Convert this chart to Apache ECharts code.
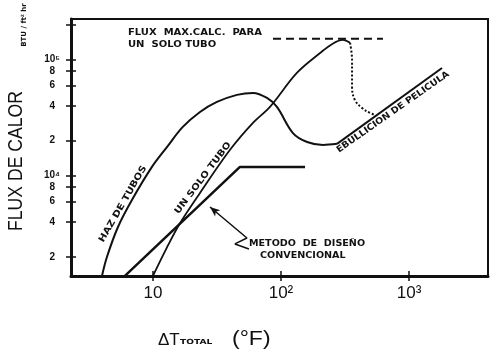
<!DOCTYPE html>
<html><head><meta charset="utf-8">
<script src="https://cdn.jsdelivr.net/npm/echarts@6/dist/echarts.min.js"></script>
<style>html,body{margin:0;padding:0;background:#fff}#c{width:491px;height:349px}</style>
</head><body><div id="c"></div>
<script>
// ---- data (ΔT total °F, flux BTU/ft² hr) ----
const xTicks = [10, 100, 1000];
const yLabelTicks = [2000, 4000, 6000, 8000, 10000, 20000, 40000, 60000, 80000, 100000];
const yTickMarks = [2000, 4000, 6000, 8000, 10000, 20000, 40000, 60000, 80000, 100000, 200000];
const hazDeTubos = [[4.0,1370],[4.37,1990],[5.33,3610],[6.85,6170],[9.82,11900],[12.9,17700],[17.1,26300],[23.3,35400],[31.6,43200],[45.3,49700],[60.4,51700],[77.8,46800],[93,39100],[124,23300],[160,19500],[213,18400],[274,18800]];
const ebullicionPelicula = [[274,18800],[1811,84800]];
const unSoloTubo = [[10,1370],[12.9,2425],[16.3,3910],[23.3,7100],[40,16700],[60.4,28500],[82,39100],[133,76800],[202,114000],[255,138000],[305,148000],[346,140000]];
const unSoloTuboTransicion = [[346,140000],[359,99400],[359,58200],[378,44900],[430,38300],[496,34700],[542,33400]];
const metodoConvencional = [[6.04,1370],[47.8,11900],[154,11900]];
const fluxMaxCalc = [[86.6,151000],[626,151000]];
const flecha = [[27.9,5370],[54.2,2900],[43.7,2580],[56.2,2330]];

const X_MIN = 2.29, X_MAX = 4140, Y_MIN = 1365, Y_MAX = 224000;
const black = '#111';

function isPow10(v){ const e = Math.round(Math.log10(v)); return Math.abs(Math.pow(10,e) - v) < 1e-6 * v; }
const sup = {'2':'²','3':'³','4':'⁴','5':'⁵'};
function xFmt(v){ const e = Math.round(Math.log10(v)); return e === 1 ? '10' : '10' + sup[e]; }
function yFmt(v){
  if (isPow10(v)) return '10' + sup[Math.round(Math.log10(v))];
  const d = Math.round(v / Math.pow(10, Math.floor(Math.log10(v) + 1e-9)));
  return '{d|' + d + '}';
}

function txt(text, x, y, font, extra){
  const el = {type:'text', x:x, y:y, z:100, style:{text:text, fill:black, font:font, textAlign:'left', textVerticalAlign:'middle'}};
  if (extra) Object.assign(el, extra);
  if (extra && extra.align) { el.style.textAlign = extra.align; delete el.align; }
  return el;
}
const deg = Math.PI / 180;

const chart = echarts.init(document.getElementById('c'));
const tickLine = {color:black, width:1.5};
const option = {
  animation:false,
  backgroundColor:'#fff',
  grid:{left:71, right:3, top:19, bottom:73, show:true, borderColor:black, borderWidth:2, outerBoundsMode:'none'},
  xAxis:[
    {type:'log', min:X_MIN, max:X_MAX, position:'bottom',
     axisLine:{show:true, lineStyle:{color:black, width:3}},
     axisTick:{show:true, customValues:xTicks, length:5, lineStyle:tickLine},
     axisLabel:{customValues:xTicks, formatter:xFmt, color:black, fontSize:17, fontFamily:'"Liberation Sans", "DejaVu Sans"', margin:9},
     splitLine:{show:false}, minorTick:{show:false}},
    {type:'log', min:X_MIN, max:X_MAX, position:'bottom',
     axisLine:{show:false}, axisTick:{show:true, inside:true, customValues:xTicks, length:5, lineStyle:tickLine},
     axisLabel:{show:false}, splitLine:{show:false}}
  ],
  yAxis:[
    {type:'log', min:Y_MIN, max:Y_MAX, position:'left',
     axisLine:{show:true, lineStyle:{color:black, width:3}},
     axisTick:{show:true, customValues:yTickMarks, length:5, lineStyle:tickLine},
     axisLabel:{customValues:yLabelTicks, formatter:yFmt, color:black, fontSize:10, fontWeight:'bold',
       fontFamily:'"Liberation Sans", "DejaVu Sans"', margin:11,
       rich:{d:{fontSize:10, fontWeight:'bold', fontFamily:'"Liberation Sans"', color:black, padding:[0,5,0,0]}}},
     splitLine:{show:false}, minorTick:{show:false}},
    {type:'log', min:Y_MIN, max:Y_MAX, position:'left',
     axisLine:{show:false}, axisTick:{show:true, inside:true, customValues:yTickMarks, length:5, lineStyle:tickLine},
     axisLabel:{show:false}, splitLine:{show:false}}
  ],
  series:[
    {name:'Haz de tubos', type:'line', data:hazDeTubos, smooth:0.35, symbol:'none', lineStyle:{color:black, width:2}},
    {name:'Ebullición de película', type:'line', data:ebullicionPelicula, symbol:'none', lineStyle:{color:black, width:2}},
    {name:'Un solo tubo', type:'line', data:unSoloTubo, smooth:0.35, symbol:'none', lineStyle:{color:black, width:1.8}},
    {name:'Transición', type:'line', data:unSoloTuboTransicion, smooth:0.4, symbol:'none', lineStyle:{color:black, width:2, type:[2,2]}},
    {name:'Método convencional', type:'line', data:metodoConvencional, symbol:'none', lineStyle:{color:black, width:2.5}},
    {name:'Flux máx. calc.', type:'line', data:fluxMaxCalc, symbol:'none', lineStyle:{color:black, width:2, type:[8,5]}},
    {name:'Flecha', type:'line', showSymbol:true, symbol:'none', lineStyle:{color:black, width:1.5},
     data:flecha.map((p,i) => i === 0 ? {value:p, symbol:'arrow', symbolSize:[6,10], symbolRotate:50, itemStyle:{color:black}} : {value:p})}
  ],
  graphic:[
    txt('FLUX DE CALOR', 16, 161, '20px "Liberation Sans", "DejaVu Sans"', {rotation:90*deg, scaleX:0.88, align:'center'}),
    txt('BTU / ft² hr', 24, 25, 'bold 7px "DejaVu Sans"', {rotation:90*deg, align:'center'}),
    txt('ΔT', 158, 340, '17px "Liberation Sans", "DejaVu Sans"'),
    txt('TOTAL', 180, 342, 'bold 7px "DejaVu Sans"', {scaleX:1.3}),
    txt('(°F)', 232, 339, '20px "Liberation Sans", "DejaVu Sans"', {scaleX:1.15}),
    txt('FLUX  MAX.CALC.  PARA', 128, 33, 'bold 8px "DejaVu Sans"', {scaleX:1.25}),
    txt('UN  SOLO TUBO', 128, 45, 'bold 8px "DejaVu Sans"', {scaleX:1.25}),
    txt('METODO  DE  DISEÑO', 249, 244, 'bold 8px "DejaVu Sans"', {scaleX:1.2}),
    txt('CONVENCIONAL', 260, 256, 'bold 8px "DejaVu Sans"', {scaleX:1.2}),
    txt('HAZ DE TUBOS', 123, 204, 'bold 9px "DejaVu Sans"', {rotation:60*deg, scaleX:1.15, align:'center'}),
    txt('UN SOLO TUBO', 203, 178, 'bold 9px "DejaVu Sans"', {rotation:53*deg, scaleX:1.15, align:'center'}),
    txt('EBULLICION DE PELICULA', 393, 112, 'bold 9px "DejaVu Sans"', {rotation:35*deg, scaleX:1.05, align:'center'})
  ]
};
chart.setOption(option);
</script>
</body></html>
